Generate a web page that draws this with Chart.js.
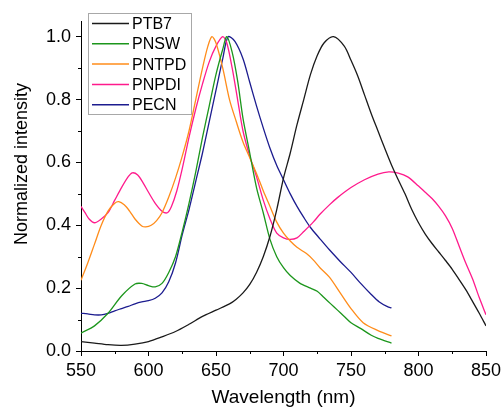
<!DOCTYPE html>
<html>
<head>
<meta charset="utf-8">
<script src="https://cdn.jsdelivr.net/npm/chart.js@4"></script>
<style>
  body { margin: 0; background: #fff; }
  canvas { display: block; }
</style>
</head>
<body>
<canvas id="chartPL" width="503" height="409"></canvas>
<script>
// wavelength (nm) and normalized intensity
const ptb7X = [550, 560, 570, 580, 590, 600, 610, 620, 630, 640, 650, 660, 665, 670, 675, 680, 685, 690, 695, 700, 705, 710, 715, 720, 725, 730, 737, 745, 750, 755, 760, 765, 770, 775, 780, 785, 790, 795, 800, 805, 810, 815, 820, 825, 830, 835, 840, 845, 850];
const ptb7Y = [0.030, 0.025, 0.020, 0.018, 0.022, 0.030, 0.045, 0.062, 0.085, 0.110, 0.130, 0.150, 0.165, 0.185, 0.212, 0.250, 0.300, 0.365, 0.450, 0.550, 0.630, 0.720, 0.800, 0.880, 0.940, 0.980, 1.000, 0.970, 0.925, 0.875, 0.815, 0.755, 0.700, 0.645, 0.592, 0.545, 0.500, 0.450, 0.408, 0.372, 0.342, 0.315, 0.288, 0.260, 0.228, 0.195, 0.158, 0.120, 0.080];

const pnswX = [550, 560, 570, 580, 590, 595, 600, 605, 610, 615, 620, 625, 630, 635, 640, 645, 650, 655, 658, 662, 666, 670, 675, 680, 685, 690, 695, 700, 705, 712, 720, 725, 730, 735, 740, 745, 750, 757, 765, 770, 780];
const pnswY = [0.057, 0.080, 0.120, 0.175, 0.213, 0.215, 0.208, 0.204, 0.215, 0.250, 0.300, 0.380, 0.470, 0.570, 0.680, 0.780, 0.880, 0.960, 1.000, 0.950, 0.860, 0.740, 0.630, 0.520, 0.440, 0.355, 0.300, 0.265, 0.240, 0.216, 0.200, 0.190, 0.170, 0.150, 0.130, 0.110, 0.090, 0.072, 0.050, 0.040, 0.025];

const pntpdX = [550, 555, 560, 565, 570, 575, 578, 582, 586, 590, 595, 598, 602, 606, 610, 615, 620, 625, 630, 635, 640, 644, 647, 650, 655, 660, 665, 670, 675, 680, 685, 690, 695, 700, 705, 710, 717, 722, 727, 734, 742, 750, 759, 770, 780];
const pntpdY = [0.225, 0.280, 0.340, 0.400, 0.445, 0.470, 0.475, 0.465, 0.445, 0.420, 0.398, 0.395, 0.400, 0.415, 0.440, 0.490, 0.550, 0.620, 0.700, 0.800, 0.900, 0.970, 1.000, 0.980, 0.900, 0.800, 0.730, 0.665, 0.615, 0.565, 0.510, 0.460, 0.410, 0.375, 0.350, 0.330, 0.310, 0.290, 0.265, 0.235, 0.185, 0.135, 0.090, 0.065, 0.048];

const pnpdiX = [550, 553, 556, 560, 565, 570, 575, 580, 585, 588, 592, 596, 600, 605, 610, 614, 617, 621, 625, 630, 635, 640, 645, 650, 655, 658, 662, 666, 670, 675, 680, 685, 690, 695, 700, 705, 710, 715, 722, 727, 734, 740, 750, 760, 770, 778, 785, 792, 800, 805, 810, 815, 820, 825, 830, 835, 840, 845, 850];
const pnpdiY = [0.460, 0.440, 0.420, 0.408, 0.420, 0.440, 0.480, 0.520, 0.555, 0.567, 0.560, 0.535, 0.505, 0.470, 0.445, 0.440, 0.460, 0.510, 0.580, 0.680, 0.770, 0.850, 0.920, 0.970, 1.000, 0.980, 0.900, 0.800, 0.700, 0.620, 0.555, 0.480, 0.420, 0.375, 0.360, 0.355, 0.360, 0.380, 0.410, 0.435, 0.465, 0.488, 0.520, 0.545, 0.563, 0.570, 0.566, 0.554, 0.525, 0.505, 0.485, 0.460, 0.430, 0.390, 0.335, 0.280, 0.230, 0.170, 0.115];

const pecnX = [550, 555, 560, 565, 570, 575, 580, 585, 590, 595, 600, 605, 610, 615, 620, 625, 630, 635, 640, 645, 650, 655, 659, 664, 670, 675, 680, 685, 690, 695, 700, 705, 710, 715, 720, 727, 734, 742, 750, 757, 765, 771, 777, 780];
const pecnY = [0.120, 0.118, 0.115, 0.115, 0.120, 0.128, 0.135, 0.142, 0.150, 0.156, 0.160, 0.168, 0.185, 0.220, 0.280, 0.370, 0.450, 0.540, 0.630, 0.730, 0.830, 0.930, 1.000, 0.985, 0.930, 0.855, 0.780, 0.710, 0.645, 0.590, 0.545, 0.500, 0.460, 0.425, 0.393, 0.357, 0.322, 0.285, 0.250, 0.216, 0.180, 0.156, 0.141, 0.137];

const seriesNames = ['PTB7', 'PNSW', 'PNTPD', 'PNPDI', 'PECN'];
const seriesColors = ['#1a1a1a', '#1c961c', '#ff8c1a', '#ff1a8c', '#1c1c8f'];
const xTicks = [550, 600, 650, 700, 750, 800, 850];
const xMinor = [575, 625, 675, 725, 775, 825];
const yTicks = [0, 0.2, 0.4, 0.6, 0.8, 1.0];
const yMinor = [0.1, 0.3, 0.5, 0.7, 0.9];

const FONT = "'Liberation Sans', Arial, sans-serif";

function pts(xs, ys) {
    return xs.map((x, i) => ({ x: x, y: ys[i] }));
}

const allX = [ptb7X, pnswX, pntpdX, pnpdiX, pecnX];
const allY = [ptb7Y, pnswY, pntpdY, pnpdiY, pecnY];

// minor ticks, y-axis title and the boxed legend inside the plot
const extras = {
    id: 'extras',
    afterDraw(chart) {
        const ctx = chart.ctx;
        const xs = chart.scales.x, ys = chart.scales.y;
        const area = chart.chartArea;
        ctx.save();
        ctx.strokeStyle = '#000';
        ctx.lineWidth = 1;
        ctx.beginPath();
        xMinor.forEach(v => {
            const px = Math.round(xs.getPixelForValue(v)) + 0.5;
            ctx.moveTo(px, area.bottom);
            ctx.lineTo(px, area.bottom + 3);
        });
        yMinor.forEach(v => {
            const py = Math.round(ys.getPixelForValue(v)) + 0.5;
            ctx.moveTo(area.left - 3, py);
            ctx.lineTo(area.left, py);
        });
        ctx.stroke();

        // y title
        ctx.save();
        ctx.translate(22, 164);
        ctx.rotate(-Math.PI / 2);
        ctx.fillStyle = '#000';
        ctx.font = '18px ' + FONT;
        ctx.textAlign = 'center';
        ctx.textBaseline = 'middle';
        ctx.fillText('Normalized intensity', 0, 0);
        ctx.restore();

        // legend
        const bx = area.left + 7, by = area.top - 8;
        ctx.strokeStyle = '#a8a8a8';
        ctx.lineWidth = 1;
        ctx.strokeRect(bx + 0.5, by + 0.5, 103, 101);
        ctx.font = '16px ' + FONT;
        ctx.textAlign = 'left';
        ctx.textBaseline = 'middle';
        chart.data.datasets.forEach((ds, i) => {
            const ry = by + 10.5 + i * 20.3;
            ctx.strokeStyle = ds.borderColor;
            ctx.lineWidth = 1.5;
            ctx.beginPath();
            ctx.moveTo(bx + 4, ry);
            ctx.lineTo(bx + 41, ry);
            ctx.stroke();
            ctx.fillStyle = '#000';
            ctx.fillText(ds.label, bx + 44, ry + 1);
        });
        ctx.restore();
    }
};

new Chart(document.getElementById('chartPL'), {
    type: 'line',
    data: {
        datasets: seriesNames.map((name, i) => ({
            label: name,
            data: pts(allX[i], allY[i]),
            borderColor: seriesColors[i],
            borderWidth: 1.3,
            pointRadius: 0,
            fill: false,
            tension: 0.3
        }))
    },
    options: {
        responsive: false,
        animation: false,
        layout: { padding: { top: 21, right: 17, bottom: 0, left: 0 } },
        plugins: {
            legend: { display: false },
            tooltip: { enabled: false }
        },
        scales: {
            x: {
                type: 'linear',
                min: 550,
                max: 850,
                afterBuildTicks: s => { s.ticks = xTicks.map(v => ({ value: v })); },
                afterFit: s => { s.height = 58; s.paddingLeft = 0; s.paddingRight = 0; },
                border: { display: true, color: '#000', width: 1 },
                grid: { drawOnChartArea: false, drawTicks: true, tickLength: 5, tickColor: '#000' },
                ticks: {
                    autoSkip: false,
                    maxRotation: 0,
                    padding: 4,
                    color: '#000',
                    font: { family: FONT, size: 18 },
                    callback: v => String(v)
                },
                title: {
                    display: true,
                    text: 'Wavelength (nm)',
                    color: '#000',
                    font: { family: FONT, size: 19 },
                    padding: { top: 6, bottom: 0 }
                }
            },
            y: {
                min: 0,
                max: 1.05,
                afterBuildTicks: s => { s.ticks = yTicks.map(v => ({ value: v })); },
                afterFit: s => { s.width = 81; s.paddingTop = 0; s.paddingBottom = 0; },
                border: { display: true, color: '#000', width: 1 },
                grid: { drawOnChartArea: false, drawTicks: true, tickLength: 5, tickColor: '#000' },
                ticks: {
                    padding: 5,
                    color: '#000',
                    font: { family: FONT, size: 18 },
                    callback: v => Number(v).toFixed(1)
                }
            }
        }
    },
    plugins: [extras]
});
</script>
</body>
</html>
